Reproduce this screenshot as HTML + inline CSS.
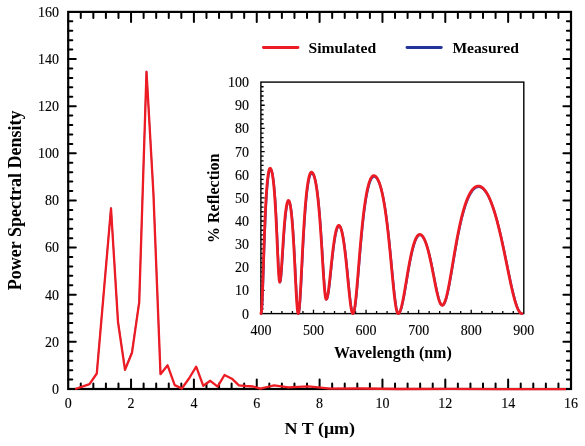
<!DOCTYPE html><html><head><meta charset="utf-8"><style>html,body{margin:0;padding:0;background:#fff;}svg{display:block;will-change:transform;}text{font-family:"Liberation Serif",serif;}</style></head><body>
<svg width="585" height="446" viewBox="0 0 585 446">
<rect width="585" height="446" fill="#fff"/>
<path d="M80.77 389.00V383.50M80.77 11.90V17.90M93.34 389.00V383.50M93.34 11.90V17.90M105.91 389.00V383.50M105.91 11.90V17.90M118.48 389.00V383.50M118.48 11.90V17.90M131.05 389.00V379.50M131.05 11.90V22.00M143.62 389.00V383.50M143.62 11.90V17.90M156.19 389.00V383.50M156.19 11.90V17.90M168.76 389.00V383.50M168.76 11.90V17.90M181.33 389.00V383.50M181.33 11.90V17.90M193.90 389.00V379.50M193.90 11.90V22.00M206.47 389.00V383.50M206.47 11.90V17.90M219.04 389.00V383.50M219.04 11.90V17.90M231.61 389.00V383.50M231.61 11.90V17.90M244.18 389.00V383.50M244.18 11.90V17.90M256.75 389.00V379.50M256.75 11.90V22.00M269.32 389.00V383.50M269.32 11.90V17.90M281.89 389.00V383.50M281.89 11.90V17.90M294.46 389.00V383.50M294.46 11.90V17.90M307.03 389.00V383.50M307.03 11.90V17.90M319.60 389.00V379.50M319.60 11.90V22.00M332.17 389.00V383.50M332.17 11.90V17.90M344.74 389.00V383.50M344.74 11.90V17.90M357.31 389.00V383.50M357.31 11.90V17.90M369.88 389.00V383.50M369.88 11.90V17.90M382.45 389.00V379.50M382.45 11.90V22.00M395.02 389.00V383.50M395.02 11.90V17.90M407.59 389.00V383.50M407.59 11.90V17.90M420.16 389.00V383.50M420.16 11.90V17.90M432.73 389.00V383.50M432.73 11.90V17.90M445.30 389.00V379.50M445.30 11.90V22.00M457.87 389.00V383.50M457.87 11.90V17.90M470.44 389.00V383.50M470.44 11.90V17.90M483.01 389.00V383.50M483.01 11.90V17.90M495.58 389.00V383.50M495.58 11.90V17.90M508.15 389.00V379.50M508.15 11.90V22.00M520.72 389.00V383.50M520.72 11.90V17.90M533.29 389.00V383.50M533.29 11.90V17.90M545.86 389.00V383.50M545.86 11.90V17.90M558.43 389.00V383.50M558.43 11.90V17.90M68.20 379.57H72.30M571.00 379.57H566.90M68.20 370.14H72.30M571.00 370.14H566.90M68.20 360.72H72.30M571.00 360.72H566.90M68.20 351.29H72.30M571.00 351.29H566.90M68.20 341.86H75.80M571.00 341.86H563.40M68.20 332.44H72.30M571.00 332.44H566.90M68.20 323.01H72.30M571.00 323.01H566.90M68.20 313.58H72.30M571.00 313.58H566.90M68.20 304.15H72.30M571.00 304.15H566.90M68.20 294.73H75.80M571.00 294.73H563.40M68.20 285.30H72.30M571.00 285.30H566.90M68.20 275.87H72.30M571.00 275.87H566.90M68.20 266.44H72.30M571.00 266.44H566.90M68.20 257.01H72.30M571.00 257.01H566.90M68.20 247.59H75.80M571.00 247.59H563.40M68.20 238.16H72.30M571.00 238.16H566.90M68.20 228.73H72.30M571.00 228.73H566.90M68.20 219.31H72.30M571.00 219.31H566.90M68.20 209.88H72.30M571.00 209.88H566.90M68.20 200.45H75.80M571.00 200.45H563.40M68.20 191.02H72.30M571.00 191.02H566.90M68.20 181.59H72.30M571.00 181.59H566.90M68.20 172.17H72.30M571.00 172.17H566.90M68.20 162.74H72.30M571.00 162.74H566.90M68.20 153.31H75.80M571.00 153.31H563.40M68.20 143.88H72.30M571.00 143.88H566.90M68.20 134.46H72.30M571.00 134.46H566.90M68.20 125.03H72.30M571.00 125.03H566.90M68.20 115.60H72.30M571.00 115.60H566.90M68.20 106.18H75.80M571.00 106.18H563.40M68.20 96.75H72.30M571.00 96.75H566.90M68.20 87.32H72.30M571.00 87.32H566.90M68.20 77.89H72.30M571.00 77.89H566.90M68.20 68.46H72.30M571.00 68.46H566.90M68.20 59.04H75.80M571.00 59.04H563.40M68.20 49.61H72.30M571.00 49.61H566.90M68.20 40.18H72.30M571.00 40.18H566.90M68.20 30.75H72.30M571.00 30.75H566.90M68.20 21.33H72.30M571.00 21.33H566.90" stroke="#000" stroke-width="2.0" stroke-linecap="round" fill="none"/>
<rect x="68.2" y="11.9" width="502.80" height="377.10" fill="none" stroke="#000" stroke-width="2.2"/>
<text x="68.20" y="407.6" font-size="14" stroke="#000" stroke-width="0.12" text-anchor="middle">0</text><text x="131.05" y="407.6" font-size="14" stroke="#000" stroke-width="0.12" text-anchor="middle">2</text><text x="193.90" y="407.6" font-size="14" stroke="#000" stroke-width="0.12" text-anchor="middle">4</text><text x="256.75" y="407.6" font-size="14" stroke="#000" stroke-width="0.12" text-anchor="middle">6</text><text x="319.60" y="407.6" font-size="14" stroke="#000" stroke-width="0.12" text-anchor="middle">8</text><text x="382.45" y="407.6" font-size="14" stroke="#000" stroke-width="0.12" text-anchor="middle">10</text><text x="445.30" y="407.6" font-size="14" stroke="#000" stroke-width="0.12" text-anchor="middle">12</text><text x="508.15" y="407.6" font-size="14" stroke="#000" stroke-width="0.12" text-anchor="middle">14</text><text x="571.00" y="407.6" font-size="14" stroke="#000" stroke-width="0.12" text-anchor="middle">16</text><text x="59.0" y="393.80" font-size="14" stroke="#000" stroke-width="0.12" text-anchor="end">0</text><text x="59.0" y="346.66" font-size="14" stroke="#000" stroke-width="0.12" text-anchor="end">20</text><text x="59.0" y="299.53" font-size="14" stroke="#000" stroke-width="0.12" text-anchor="end">40</text><text x="59.0" y="252.39" font-size="14" stroke="#000" stroke-width="0.12" text-anchor="end">60</text><text x="59.0" y="205.25" font-size="14" stroke="#000" stroke-width="0.12" text-anchor="end">80</text><text x="59.0" y="158.11" font-size="14" stroke="#000" stroke-width="0.12" text-anchor="end">100</text><text x="59.0" y="110.98" font-size="14" stroke="#000" stroke-width="0.12" text-anchor="end">120</text><text x="59.0" y="63.84" font-size="14" stroke="#000" stroke-width="0.12" text-anchor="end">140</text><text x="59.0" y="16.70" font-size="14" stroke="#000" stroke-width="0.12" text-anchor="end">160</text>
<text transform="translate(319.8 434.3) scale(1 0.97)" font-size="18" font-weight="bold" text-anchor="middle">N T (&#956;m)</text>
<text transform="translate(20.5 200.4) rotate(-90)" font-size="18" font-weight="bold" text-anchor="middle">Power Spectral Density</text>
<path d="M96.8 372.5 L103.9 290.0 L111.0 207.5 L118.0 321.0 L125.0 368.9 L132.0 351.7 L139.2 301.4 L146.5 70.8 L153.4 192.0 L160.5 373.2" stroke="#3040b0" stroke-width="1.3" fill="none" stroke-linejoin="miter"/>
<path d="M75.2 389.0 L82.3 386.6 L89.5 384.2 L96.8 373.5 L103.9 291.0 L111.0 208.5 L118.0 322.0 L125.0 369.9 L132.0 352.7 L139.2 302.4 L146.5 71.8 L153.4 193.0 L160.5 374.2 L167.6 365.3 L174.7 385.1 L181.8 388.5 L189.0 378.5 L196.2 366.7 L203.3 385.8 L210.3 380.8 L217.6 386.6 L224.5 375.0 L231.9 378.7 L238.9 385.3 L246.0 386.0 L253.1 386.5 L260.2 388.6 L267.3 387.0 L274.1 385.4 L288.5 387.4 L308.0 386.4 L318.2 387.4 L330.0 388.7 L360.0 388.5 L400.0 389.0 L450.0 388.9 L500.0 389.1 L566.0 389.1" stroke="#ed1c24" stroke-width="2.3" fill="none" stroke-linejoin="round"/>
<path d="M263.4 47.5H298" stroke="#ed1c24" stroke-width="2.8" stroke-linecap="round"/>
<text x="308.5" y="52.6" font-size="15.6" font-weight="bold">Simulated</text>
<path d="M407 47.5H441.3" stroke="#23349a" stroke-width="2.8" stroke-linecap="round"/>
<text x="452.4" y="52.6" font-size="15.6" font-weight="bold">Measured</text>
<rect x="261.65" y="82.85" width="261.40" height="230.00" fill="#fff"/>
<path d="M260.90 308.97H263.60M260.90 304.34H263.60M260.90 299.71H263.60M260.90 295.08H263.60M260.90 290.45H264.70M260.90 285.82H263.60M260.90 281.19H263.60M260.90 276.56H263.60M260.90 271.93H263.60M260.90 267.30H264.70M260.90 262.67H263.60M260.90 258.04H263.60M260.90 253.41H263.60M260.90 248.78H263.60M260.90 244.15H264.70M260.90 239.52H263.60M260.90 234.89H263.60M260.90 230.26H263.60M260.90 225.63H263.60M260.90 221.00H264.70M260.90 216.37H263.60M260.90 211.74H263.60M260.90 207.11H263.60M260.90 202.48H263.60M260.90 197.85H264.70M260.90 193.22H263.60M260.90 188.59H263.60M260.90 183.96H263.60M260.90 179.33H263.60M260.90 174.70H264.70M260.90 170.07H263.60M260.90 165.44H263.60M260.90 160.81H263.60M260.90 156.18H263.60M260.90 151.55H264.70M260.90 146.92H263.60M260.90 142.29H263.60M260.90 137.66H263.60M260.90 133.03H263.60M260.90 128.40H264.70M260.90 123.77H263.60M260.90 119.14H263.60M260.90 114.51H263.60M260.90 109.88H263.60M260.90 105.25H264.70M260.90 100.62H263.60M260.90 95.99H263.60M260.90 91.36H263.60M260.90 86.73H263.60M271.42 313.60V310.90M281.93 313.60V310.90M292.45 313.60V310.90M302.96 313.60V310.90M313.48 313.60V309.80M324.00 313.60V310.90M334.51 313.60V310.90M345.03 313.60V310.90M355.54 313.60V310.90M366.06 313.60V309.80M376.58 313.60V310.90M387.09 313.60V310.90M397.61 313.60V310.90M408.12 313.60V310.90M418.64 313.60V309.80M429.16 313.60V310.90M439.67 313.60V310.90M450.19 313.60V310.90M460.70 313.60V310.90M471.22 313.60V309.80M481.74 313.60V310.90M492.25 313.60V310.90M502.77 313.60V310.90M513.28 313.60V310.90" stroke="#000" stroke-width="1.3" fill="none"/>
<rect x="260.9" y="82.1" width="262.90" height="231.50" fill="none" stroke="#000" stroke-width="1.4"/>
<text x="260.90" y="334.8" font-size="14" stroke="#000" stroke-width="0.12" text-anchor="middle">400</text><text x="313.48" y="334.8" font-size="14" stroke="#000" stroke-width="0.12" text-anchor="middle">500</text><text x="366.06" y="334.8" font-size="14" stroke="#000" stroke-width="0.12" text-anchor="middle">600</text><text x="418.64" y="334.8" font-size="14" stroke="#000" stroke-width="0.12" text-anchor="middle">700</text><text x="471.22" y="334.8" font-size="14" stroke="#000" stroke-width="0.12" text-anchor="middle">800</text><text x="523.80" y="334.8" font-size="14" stroke="#000" stroke-width="0.12" text-anchor="middle">900</text><text x="249" y="318.60" font-size="14" stroke="#000" stroke-width="0.12" text-anchor="end">0</text><text x="249" y="295.45" font-size="14" stroke="#000" stroke-width="0.12" text-anchor="end">10</text><text x="249" y="272.30" font-size="14" stroke="#000" stroke-width="0.12" text-anchor="end">20</text><text x="249" y="249.15" font-size="14" stroke="#000" stroke-width="0.12" text-anchor="end">30</text><text x="249" y="226.00" font-size="14" stroke="#000" stroke-width="0.12" text-anchor="end">40</text><text x="249" y="202.85" font-size="14" stroke="#000" stroke-width="0.12" text-anchor="end">50</text><text x="249" y="179.70" font-size="14" stroke="#000" stroke-width="0.12" text-anchor="end">60</text><text x="249" y="156.55" font-size="14" stroke="#000" stroke-width="0.12" text-anchor="end">70</text><text x="249" y="133.40" font-size="14" stroke="#000" stroke-width="0.12" text-anchor="end">80</text><text x="249" y="110.25" font-size="14" stroke="#000" stroke-width="0.12" text-anchor="end">90</text><text x="249" y="87.10" font-size="14" stroke="#000" stroke-width="0.12" text-anchor="end">100</text>
<text x="392.9" y="357.7" font-size="16" font-weight="bold" text-anchor="middle">Wavelength (nm)</text>
<text transform="translate(219.2 198.3) rotate(-90)" font-size="16" font-weight="bold" text-anchor="middle">% Reflection</text>
<path d="M261.30 313.60 L261.81 310.69 L262.31 302.46 L262.82 290.24 L263.32 275.69 L263.83 260.34 L264.33 245.37 L264.84 231.52 L265.34 219.14 L265.85 208.38 L266.36 199.20 L266.86 191.50 L267.37 185.16 L267.87 180.04 L268.38 176.02 L268.88 172.99 L269.39 170.89 L269.89 169.65 L270.40 169.24 L270.91 169.52 L271.41 170.40 L271.92 171.87 L272.42 173.99 L272.93 176.79 L273.43 180.35 L273.94 184.73 L274.44 190.04 L274.95 196.34 L275.45 203.74 L275.96 212.26 L276.46 221.90 L276.97 232.52 L277.47 243.78 L277.98 255.13 L278.48 265.71 L278.99 274.46 L279.49 280.29 L280.00 282.34 L280.52 281.00 L281.04 277.14 L281.55 271.24 L282.07 263.91 L282.59 255.83 L283.11 247.55 L283.62 239.54 L284.14 232.09 L284.66 225.38 L285.18 219.50 L285.69 214.48 L286.21 210.31 L286.73 206.97 L287.25 204.41 L287.76 202.61 L288.28 201.54 L288.80 201.19 L289.31 201.58 L289.82 202.77 L290.33 204.76 L290.84 207.57 L291.35 211.25 L291.86 215.82 L292.37 221.32 L292.88 227.76 L293.39 235.16 L293.91 243.47 L294.42 252.62 L294.93 262.44 L295.44 272.65 L295.95 282.85 L296.46 292.53 L296.97 301.07 L297.48 307.79 L297.99 312.11 L298.50 313.60 L299.01 312.29 L299.52 308.47 L300.03 302.44 L300.55 294.63 L301.06 285.54 L301.57 275.69 L302.08 265.51 L302.59 255.37 L303.10 245.56 L303.62 236.28 L304.13 227.63 L304.64 219.69 L305.15 212.48 L305.66 206.00 L306.17 200.22 L306.68 195.11 L307.20 190.63 L307.71 186.74 L308.22 183.40 L308.73 180.59 L309.24 178.26 L309.75 176.39 L310.27 174.95 L310.78 173.94 L311.29 173.34 L311.80 173.14 L312.31 173.29 L312.81 173.72 L313.32 174.45 L313.83 175.48 L314.33 176.82 L314.84 178.48 L315.35 180.48 L315.86 182.84 L316.36 185.58 L316.87 188.72 L317.38 192.29 L317.88 196.31 L318.39 200.80 L318.90 205.80 L319.40 211.31 L319.91 217.35 L320.42 223.92 L320.92 230.99 L321.43 238.51 L321.94 246.41 L322.44 254.55 L322.95 262.77 L323.46 270.84 L323.97 278.47 L324.47 285.37 L324.98 291.19 L325.49 295.62 L325.99 298.40 L326.50 299.35 L327.00 298.88 L327.51 297.50 L328.01 295.28 L328.52 292.29 L329.02 288.66 L329.52 284.53 L330.03 280.03 L330.53 275.29 L331.04 270.44 L331.54 265.60 L332.04 260.84 L332.55 256.26 L333.05 251.91 L333.56 247.84 L334.06 244.08 L334.56 240.65 L335.07 237.57 L335.57 234.86 L336.08 232.50 L336.58 230.51 L337.08 228.89 L337.59 227.63 L338.09 226.73 L338.60 226.20 L339.10 226.02 L339.60 226.19 L340.11 226.70 L340.61 227.55 L341.11 228.75 L341.62 230.30 L342.12 232.19 L342.62 234.42 L343.13 237.01 L343.63 239.94 L344.14 243.22 L344.64 246.83 L345.14 250.76 L345.65 254.99 L346.15 259.50 L346.65 264.26 L347.16 269.22 L347.66 274.32 L348.16 279.49 L348.67 284.66 L349.17 289.73 L349.68 294.59 L350.18 299.14 L350.68 303.24 L351.19 306.80 L351.69 309.70 L352.19 311.84 L352.70 313.16 L353.20 313.60 L353.71 313.10 L354.22 311.63 L354.73 309.22 L355.24 305.96 L355.75 301.93 L356.26 297.25 L356.77 292.02 L357.28 286.38 L357.79 280.44 L358.30 274.31 L358.81 268.09 L359.32 261.86 L359.83 255.70 L360.34 249.67 L360.85 243.82 L361.36 238.18 L361.87 232.78 L362.38 227.65 L362.89 222.79 L363.40 218.20 L363.90 213.90 L364.41 209.87 L364.92 206.12 L365.43 202.64 L365.94 199.41 L366.45 196.44 L366.96 193.71 L367.47 191.21 L367.98 188.94 L368.49 186.88 L369.00 185.03 L369.51 183.38 L370.02 181.92 L370.53 180.65 L371.04 179.56 L371.55 178.64 L372.06 177.90 L372.57 177.33 L373.08 176.92 L373.59 176.67 L374.10 176.59 L374.61 176.65 L375.11 176.83 L375.62 177.13 L376.12 177.54 L376.63 178.08 L377.14 178.75 L377.64 179.54 L378.15 180.45 L378.66 181.50 L379.16 182.69 L379.67 184.01 L380.18 185.47 L380.68 187.08 L381.19 188.85 L381.69 190.77 L382.20 192.85 L382.71 195.10 L383.21 197.53 L383.72 200.13 L384.23 202.92 L384.73 205.90 L385.24 209.07 L385.74 212.44 L386.25 216.02 L386.76 219.79 L387.26 223.78 L387.77 227.96 L388.28 232.35 L388.78 236.92 L389.29 241.68 L389.79 246.60 L390.30 251.66 L390.81 256.85 L391.31 262.12 L391.82 267.44 L392.33 272.76 L392.83 278.03 L393.34 283.19 L393.84 288.18 L394.35 292.93 L394.86 297.35 L395.36 301.38 L395.87 304.94 L396.38 307.96 L396.88 310.39 L397.39 312.16 L397.89 313.24 L398.40 313.60 L398.90 313.44 L399.40 312.97 L399.91 312.18 L400.41 311.09 L400.91 309.72 L401.41 308.09 L401.92 306.20 L402.42 304.09 L402.92 301.78 L403.42 299.30 L403.93 296.67 L404.43 293.92 L404.93 291.07 L405.43 288.15 L405.93 285.18 L406.44 282.19 L406.94 279.20 L407.44 276.23 L407.94 273.28 L408.45 270.39 L408.95 267.57 L409.45 264.82 L409.95 262.16 L410.46 259.59 L410.96 257.13 L411.46 254.79 L411.96 252.56 L412.47 250.46 L412.97 248.48 L413.47 246.63 L413.97 244.91 L414.47 243.33 L414.98 241.88 L415.48 240.57 L415.98 239.40 L416.48 238.36 L416.99 237.47 L417.49 236.71 L417.99 236.09 L418.49 235.60 L419.00 235.26 L419.50 235.05 L420.00 234.98 L420.50 235.04 L421.00 235.21 L421.50 235.49 L422.00 235.88 L422.50 236.39 L423.00 237.01 L423.50 237.75 L424.00 238.59 L424.50 239.55 L425.00 240.62 L425.50 241.80 L426.00 243.10 L426.50 244.50 L427.00 246.01 L427.50 247.63 L428.00 249.36 L428.50 251.19 L429.00 253.12 L429.50 255.14 L430.00 257.25 L430.50 259.45 L431.00 261.73 L431.50 264.08 L432.00 266.50 L432.50 268.96 L433.00 271.47 L433.50 274.01 L434.00 276.57 L434.50 279.13 L435.00 281.67 L435.50 284.18 L436.00 286.65 L436.50 289.04 L437.00 291.34 L437.50 293.54 L438.00 295.60 L438.50 297.51 L439.00 299.25 L439.50 300.80 L440.00 302.15 L440.50 303.27 L441.00 304.16 L441.50 304.81 L442.00 305.19 L442.50 305.32 L443.00 305.20 L443.50 304.82 L444.00 304.20 L444.51 303.34 L445.01 302.24 L445.51 300.92 L446.01 299.39 L446.51 297.66 L447.01 295.74 L447.51 293.64 L448.02 291.39 L448.52 289.00 L449.02 286.49 L449.52 283.86 L450.02 281.15 L450.52 278.35 L451.02 275.50 L451.53 272.59 L452.03 269.66 L452.53 266.70 L453.03 263.73 L453.53 260.77 L454.03 257.81 L454.53 254.88 L455.03 251.98 L455.54 249.12 L456.04 246.30 L456.54 243.53 L457.04 240.81 L457.54 238.16 L458.04 235.56 L458.54 233.04 L459.05 230.58 L459.55 228.19 L460.05 225.87 L460.55 223.62 L461.05 221.45 L461.55 219.35 L462.05 217.32 L462.56 215.37 L463.06 213.50 L463.56 211.69 L464.06 209.96 L464.56 208.30 L465.06 206.71 L465.56 205.18 L466.07 203.73 L466.57 202.35 L467.07 201.03 L467.57 199.78 L468.07 198.59 L468.57 197.47 L469.07 196.40 L469.57 195.40 L470.08 194.46 L470.58 193.58 L471.08 192.76 L471.58 192.00 L472.08 191.29 L472.58 190.63 L473.08 190.04 L473.59 189.49 L474.09 189.00 L474.59 188.57 L475.09 188.18 L475.59 187.85 L476.09 187.57 L476.59 187.34 L477.10 187.16 L477.60 187.04 L478.10 186.96 L478.60 186.94 L479.10 186.96 L479.60 187.03 L480.10 187.16 L480.60 187.33 L481.11 187.54 L481.61 187.81 L482.11 188.13 L482.61 188.49 L483.11 188.91 L483.61 189.37 L484.11 189.88 L484.61 190.45 L485.11 191.06 L485.62 191.72 L486.12 192.43 L486.62 193.19 L487.12 194.00 L487.62 194.87 L488.12 195.78 L488.62 196.74 L489.12 197.75 L489.63 198.82 L490.13 199.93 L490.63 201.10 L491.13 202.32 L491.63 203.59 L492.13 204.91 L492.63 206.28 L493.13 207.70 L493.63 209.17 L494.14 210.70 L494.64 212.27 L495.14 213.90 L495.64 215.57 L496.14 217.30 L496.64 219.07 L497.14 220.89 L497.64 222.76 L498.14 224.68 L498.65 226.64 L499.15 228.64 L499.65 230.69 L500.15 232.79 L500.65 234.92 L501.15 237.09 L501.65 239.30 L502.15 241.55 L502.66 243.82 L503.16 246.13 L503.66 248.47 L504.16 250.83 L504.66 253.21 L505.16 255.62 L505.66 258.04 L506.16 260.47 L506.66 262.90 L507.17 265.34 L507.67 267.79 L508.17 270.22 L508.67 272.65 L509.17 275.06 L509.67 277.44 L510.17 279.81 L510.67 282.14 L511.17 284.43 L511.68 286.68 L512.18 288.88 L512.68 291.03 L513.18 293.11 L513.68 295.12 L514.18 297.06 L514.68 298.92 L515.18 300.70 L515.69 302.38 L516.19 303.96 L516.69 305.44 L517.19 306.81 L517.69 308.07 L518.19 309.20 L518.69 310.22 L519.19 311.10 L519.69 311.86 L520.20 312.48 L520.70 312.97 L521.20 313.32 L521.70 313.53" stroke="#3040b0" stroke-width="2.3" fill="none" stroke-linejoin="round" stroke-linecap="round"/>
<path d="M261.00 313.60 L261.51 310.67 L262.01 302.39 L262.52 290.08 L263.02 275.42 L263.53 259.97 L264.03 244.89 L264.54 230.94 L265.04 218.48 L265.55 207.64 L266.06 198.39 L266.56 190.64 L267.07 184.26 L267.57 179.10 L268.08 175.05 L268.58 172.00 L269.09 169.88 L269.59 168.63 L270.10 168.22 L270.61 168.51 L271.11 169.39 L271.62 170.87 L272.12 173.00 L272.63 175.83 L273.13 179.41 L273.64 183.83 L274.14 189.17 L274.65 195.52 L275.15 202.96 L275.66 211.55 L276.16 221.26 L276.67 231.95 L277.17 243.29 L277.68 254.71 L278.18 265.37 L278.69 274.18 L279.19 280.05 L279.70 282.12 L280.22 280.77 L280.74 276.89 L281.25 270.94 L281.77 263.56 L282.29 255.42 L282.81 247.09 L283.32 239.02 L283.84 231.51 L284.36 224.76 L284.88 218.84 L285.39 213.78 L285.91 209.59 L286.43 206.22 L286.95 203.64 L287.46 201.83 L287.98 200.75 L288.50 200.40 L289.01 200.79 L289.52 201.98 L290.03 203.99 L290.54 206.83 L291.05 210.53 L291.56 215.13 L292.07 220.67 L292.58 227.16 L293.09 234.60 L293.61 242.98 L294.12 252.19 L294.63 262.08 L295.14 272.36 L295.65 282.63 L296.16 292.38 L296.67 300.98 L297.18 307.75 L297.69 312.10 L298.20 313.60 L298.71 312.28 L299.22 308.43 L299.73 302.36 L300.25 294.49 L300.76 285.35 L301.27 275.42 L301.78 265.17 L302.29 254.96 L302.80 245.08 L303.32 235.73 L303.83 227.02 L304.34 219.03 L304.85 211.77 L305.36 205.24 L305.87 199.42 L306.38 194.27 L306.90 189.76 L307.41 185.84 L307.92 182.48 L308.43 179.65 L308.94 177.30 L309.45 175.42 L309.97 173.98 L310.48 172.96 L310.99 172.35 L311.50 172.15 L312.01 172.30 L312.51 172.74 L313.02 173.47 L313.53 174.50 L314.03 175.85 L314.54 177.53 L315.05 179.55 L315.56 181.92 L316.06 184.68 L316.57 187.84 L317.08 191.43 L317.58 195.48 L318.09 200.01 L318.60 205.04 L319.10 210.59 L319.61 216.67 L320.12 223.29 L320.62 230.41 L321.13 237.98 L321.64 245.94 L322.14 254.14 L322.65 262.41 L323.16 270.53 L323.67 278.23 L324.17 285.17 L324.68 291.03 L325.19 295.50 L325.69 298.29 L326.20 299.25 L326.70 298.78 L327.21 297.39 L327.71 295.15 L328.22 292.14 L328.72 288.49 L329.22 284.32 L329.73 279.79 L330.23 275.02 L330.74 270.14 L331.24 265.26 L331.74 260.47 L332.25 255.86 L332.75 251.48 L333.26 247.37 L333.76 243.59 L334.26 240.13 L334.77 237.04 L335.27 234.30 L335.78 231.93 L336.28 229.93 L336.78 228.29 L337.29 227.03 L337.79 226.12 L338.30 225.58 L338.80 225.40 L339.30 225.57 L339.81 226.09 L340.31 226.95 L340.81 228.15 L341.32 229.71 L341.82 231.61 L342.32 233.87 L342.83 236.47 L343.33 239.42 L343.84 242.72 L344.34 246.35 L344.84 250.31 L345.35 254.58 L345.85 259.12 L346.35 263.91 L346.86 268.90 L347.36 274.04 L347.86 279.25 L348.37 284.46 L348.87 289.56 L349.38 294.46 L349.88 299.03 L350.38 303.17 L350.89 306.75 L351.39 309.67 L351.89 311.83 L352.40 313.15 L352.90 313.60 L353.41 313.10 L353.92 311.62 L354.43 309.19 L354.94 305.91 L355.45 301.85 L355.96 297.13 L356.47 291.87 L356.98 286.19 L357.49 280.21 L358.00 274.03 L358.51 267.77 L359.02 261.49 L359.53 255.29 L360.04 249.22 L360.55 243.32 L361.06 237.65 L361.57 232.21 L362.08 227.04 L362.59 222.15 L363.10 217.53 L363.60 213.20 L364.11 209.14 L364.62 205.37 L365.13 201.86 L365.64 198.61 L366.15 195.62 L366.66 192.87 L367.17 190.35 L367.68 188.06 L368.19 185.99 L368.70 184.12 L369.21 182.46 L369.72 180.99 L370.23 179.71 L370.74 178.61 L371.25 177.69 L371.76 176.94 L372.27 176.36 L372.78 175.95 L373.29 175.71 L373.80 175.63 L374.31 175.69 L374.81 175.87 L375.32 176.16 L375.82 176.59 L376.33 177.13 L376.84 177.80 L377.34 178.59 L377.85 179.52 L378.36 180.57 L378.86 181.76 L379.37 183.09 L379.88 184.57 L380.38 186.19 L380.89 187.97 L381.39 189.90 L381.90 192.00 L382.41 194.27 L382.91 196.71 L383.42 199.33 L383.93 202.14 L384.43 205.14 L384.94 208.33 L385.44 211.73 L385.95 215.33 L386.46 219.13 L386.96 223.14 L387.47 227.36 L387.98 231.77 L388.48 236.38 L388.99 241.17 L389.49 246.12 L390.00 251.22 L390.51 256.45 L391.01 261.75 L391.52 267.11 L392.03 272.47 L392.53 277.78 L393.04 282.98 L393.54 288.00 L394.05 292.78 L394.56 297.23 L395.06 301.29 L395.57 304.88 L396.08 307.92 L396.58 310.36 L397.09 312.15 L397.59 313.23 L398.10 313.60 L398.60 313.44 L399.10 312.96 L399.61 312.17 L400.11 311.08 L400.61 309.70 L401.11 308.05 L401.62 306.15 L402.12 304.03 L402.62 301.70 L403.12 299.20 L403.63 296.55 L404.13 293.78 L404.63 290.91 L405.13 287.97 L405.63 284.98 L406.14 281.97 L406.64 278.96 L407.14 275.96 L407.64 273.00 L408.15 270.09 L408.65 267.24 L409.15 264.47 L409.65 261.79 L410.16 259.21 L410.66 256.74 L411.16 254.37 L411.66 252.13 L412.17 250.01 L412.67 248.02 L413.17 246.16 L413.67 244.43 L414.17 242.84 L414.68 241.38 L415.18 240.06 L415.68 238.88 L416.18 237.83 L416.69 236.93 L417.19 236.17 L417.69 235.54 L418.19 235.05 L418.70 234.71 L419.20 234.50 L419.70 234.43 L420.20 234.48 L420.70 234.65 L421.20 234.94 L421.70 235.34 L422.20 235.85 L422.70 236.47 L423.20 237.21 L423.70 238.06 L424.20 239.03 L424.70 240.11 L425.20 241.30 L425.70 242.60 L426.20 244.01 L426.70 245.54 L427.20 247.17 L427.70 248.91 L428.20 250.75 L428.70 252.69 L429.20 254.73 L429.70 256.86 L430.20 259.07 L430.70 261.37 L431.20 263.73 L431.70 266.16 L432.20 268.65 L432.70 271.18 L433.20 273.73 L433.70 276.31 L434.20 278.88 L434.70 281.45 L435.20 283.98 L435.70 286.46 L436.20 288.87 L436.70 291.19 L437.20 293.39 L437.70 295.47 L438.20 297.40 L438.70 299.15 L439.20 300.71 L439.70 302.07 L440.20 303.20 L440.70 304.10 L441.20 304.74 L441.70 305.13 L442.20 305.27 L442.70 305.14 L443.20 304.76 L443.70 304.14 L444.21 303.27 L444.71 302.16 L445.21 300.83 L445.71 299.29 L446.21 297.55 L446.71 295.61 L447.21 293.50 L447.72 291.24 L448.22 288.83 L448.72 286.30 L449.22 283.65 L449.72 280.92 L450.22 278.10 L450.72 275.23 L451.23 272.30 L451.73 269.35 L452.23 266.37 L452.73 263.38 L453.23 260.39 L453.73 257.42 L454.23 254.47 L454.73 251.55 L455.24 248.66 L455.74 245.82 L456.24 243.03 L456.74 240.30 L457.24 237.63 L457.74 235.01 L458.24 232.47 L458.75 229.99 L459.25 227.58 L459.75 225.25 L460.25 222.99 L460.75 220.80 L461.25 218.69 L461.75 216.65 L462.26 214.68 L462.76 212.79 L463.26 210.97 L463.76 209.23 L464.26 207.55 L464.76 205.95 L465.26 204.42 L465.77 202.96 L466.27 201.56 L466.77 200.24 L467.27 198.98 L467.77 197.78 L468.27 196.65 L468.77 195.58 L469.27 194.57 L469.78 193.62 L470.28 192.74 L470.78 191.91 L471.28 191.14 L471.78 190.42 L472.28 189.77 L472.78 189.16 L473.29 188.62 L473.79 188.12 L474.29 187.68 L474.79 187.30 L475.29 186.96 L475.79 186.68 L476.29 186.45 L476.80 186.27 L477.30 186.15 L477.80 186.07 L478.30 186.04 L478.80 186.07 L479.30 186.14 L479.80 186.26 L480.30 186.44 L480.81 186.66 L481.31 186.92 L481.81 187.24 L482.31 187.61 L482.81 188.03 L483.31 188.50 L483.81 189.01 L484.31 189.58 L484.81 190.19 L485.32 190.86 L485.82 191.58 L486.32 192.34 L486.82 193.16 L487.32 194.03 L487.82 194.95 L488.32 195.92 L488.82 196.94 L489.33 198.01 L489.83 199.13 L490.33 200.31 L490.83 201.53 L491.33 202.81 L491.83 204.14 L492.33 205.52 L492.83 206.95 L493.33 208.44 L493.84 209.97 L494.34 211.56 L494.84 213.19 L495.34 214.88 L495.84 216.62 L496.34 218.40 L496.84 220.24 L497.34 222.12 L497.84 224.05 L498.35 226.03 L498.85 228.05 L499.35 230.11 L499.85 232.22 L500.35 234.37 L500.85 236.55 L501.35 238.78 L501.85 241.04 L502.36 243.33 L502.86 245.66 L503.36 248.01 L503.86 250.39 L504.36 252.79 L504.86 255.21 L505.36 257.64 L505.86 260.09 L506.36 262.55 L506.87 265.00 L507.37 267.46 L507.87 269.91 L508.37 272.36 L508.87 274.78 L509.37 277.19 L509.87 279.57 L510.37 281.92 L510.87 284.23 L511.38 286.49 L511.88 288.71 L512.38 290.87 L512.88 292.96 L513.38 294.99 L513.88 296.95 L514.38 298.82 L514.88 300.61 L515.39 302.30 L515.89 303.89 L516.39 305.38 L516.89 306.76 L517.39 308.03 L517.89 309.17 L518.39 310.19 L518.89 311.09 L519.39 311.85 L519.90 312.48 L520.40 312.97 L520.90 313.32 L521.40 313.53 L521.90 313.60" stroke="#ed1c24" stroke-width="2.8" fill="none" stroke-linejoin="round" stroke-linecap="round"/>
</svg></body></html>
